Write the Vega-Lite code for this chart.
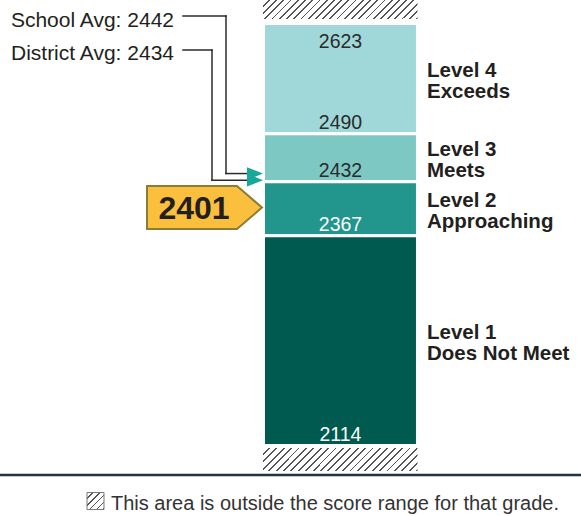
{
  "$schema": "https://vega.github.io/schema/vega-lite/v6.json",
  "width": 581,
  "height": 516,
  "padding": 0,
  "autosize": {"type": "none"},
  "config": {"view": {"stroke": null}},
  "datasets": {
    "levels": [
      {"level": "Level 4", "name": "Exceeds", "lo": 2490, "hi": 2623},
      {"level": "Level 3", "name": "Meets", "lo": 2432, "hi": 2490},
      {"level": "Level 2", "name": "Approaching", "lo": 2367, "hi": 2432},
      {"level": "Level 1", "name": "Does Not Meet", "lo": 2114, "hi": 2367}
    ],
    "avgs": [
      {"name": "School Avg", "score": 2442},
      {"name": "District Avg", "score": 2434}
    ],
    "student": [{"score": 2401}],
    "note": [{"text": "This area is outside the score range for that grade."}]
  },
  "data": {"name": "levels"},
  "layer": [
    {
      "mark": {"type": "rect", "stroke": "white", "strokeWidth": 3},
      "encoding": {
        "x": {"datum": 0, "type": "quantitative", "scale": {"domain": [-1.711, 2.062], "nice": false, "zero": false}, "axis": null},
        "x2": {"datum": 1},
        "y": {"field": "lo", "type": "quantitative", "scale": {"domain": [2029, 2651.3], "nice": false, "zero": false}, "axis": null},
        "y2": {"field": "hi"},
        "fill": {"field": "level", "type": "nominal", "scale": {"domain": ["Level 1", "Level 2", "Level 3", "Level 4"], "range": ["#005a50", "#22968c", "#7dc8c3", "#a0d8da"]}, "legend": null}
      }
    },
    {
      "data": {"values": [{}]},
      "mark": {"type": "rect", "fill": {"gradient": "linear", "x1": 0, "y1": 0, "x2": 1.1062, "y2": 0.136, "stops": [
        {"offset":0,"color":"#fff"},{"offset":0.0313,"color":"#fff"},{"offset":0.0313,"color":"#555"},{"offset":0.0417,"color":"#555"},
        {"offset":0.0417,"color":"#fff"},{"offset":0.0729,"color":"#fff"},{"offset":0.0729,"color":"#555"},{"offset":0.0833,"color":"#555"},
        {"offset":0.0833,"color":"#fff"},{"offset":0.1146,"color":"#fff"},{"offset":0.1146,"color":"#555"},{"offset":0.125,"color":"#555"},
        {"offset":0.125,"color":"#fff"},{"offset":0.1563,"color":"#fff"},{"offset":0.1563,"color":"#555"},{"offset":0.1667,"color":"#555"},
        {"offset":0.1667,"color":"#fff"},{"offset":0.1979,"color":"#fff"},{"offset":0.1979,"color":"#555"},{"offset":0.2083,"color":"#555"},
        {"offset":0.2083,"color":"#fff"},{"offset":0.2396,"color":"#fff"},{"offset":0.2396,"color":"#555"},{"offset":0.25,"color":"#555"},
        {"offset":0.25,"color":"#fff"},{"offset":0.2813,"color":"#fff"},{"offset":0.2813,"color":"#555"},{"offset":0.2917,"color":"#555"},
        {"offset":0.2917,"color":"#fff"},{"offset":0.3229,"color":"#fff"},{"offset":0.3229,"color":"#555"},{"offset":0.3333,"color":"#555"},
        {"offset":0.3333,"color":"#fff"},{"offset":0.3646,"color":"#fff"},{"offset":0.3646,"color":"#555"},{"offset":0.375,"color":"#555"},
        {"offset":0.375,"color":"#fff"},{"offset":0.4063,"color":"#fff"},{"offset":0.4063,"color":"#555"},{"offset":0.4167,"color":"#555"},
        {"offset":0.4167,"color":"#fff"},{"offset":0.4479,"color":"#fff"},{"offset":0.4479,"color":"#555"},{"offset":0.4583,"color":"#555"},
        {"offset":0.4583,"color":"#fff"},{"offset":0.4896,"color":"#fff"},{"offset":0.4896,"color":"#555"},{"offset":0.5,"color":"#555"},
        {"offset":0.5,"color":"#fff"},{"offset":0.5313,"color":"#fff"},{"offset":0.5313,"color":"#555"},{"offset":0.5417,"color":"#555"},
        {"offset":0.5417,"color":"#fff"},{"offset":0.5729,"color":"#fff"},{"offset":0.5729,"color":"#555"},{"offset":0.5833,"color":"#555"},
        {"offset":0.5833,"color":"#fff"},{"offset":0.6146,"color":"#fff"},{"offset":0.6146,"color":"#555"},{"offset":0.625,"color":"#555"},
        {"offset":0.625,"color":"#fff"},{"offset":0.6563,"color":"#fff"},{"offset":0.6563,"color":"#555"},{"offset":0.6667,"color":"#555"},
        {"offset":0.6667,"color":"#fff"},{"offset":0.6979,"color":"#fff"},{"offset":0.6979,"color":"#555"},{"offset":0.7083,"color":"#555"},
        {"offset":0.7083,"color":"#fff"},{"offset":0.7396,"color":"#fff"},{"offset":0.7396,"color":"#555"},{"offset":0.75,"color":"#555"},
        {"offset":0.75,"color":"#fff"},{"offset":0.7813,"color":"#fff"},{"offset":0.7813,"color":"#555"},{"offset":0.7917,"color":"#555"},
        {"offset":0.7917,"color":"#fff"},{"offset":0.8229,"color":"#fff"},{"offset":0.8229,"color":"#555"},{"offset":0.8333,"color":"#555"},
        {"offset":0.8333,"color":"#fff"},{"offset":0.8646,"color":"#fff"},{"offset":0.8646,"color":"#555"},{"offset":0.875,"color":"#555"},
        {"offset":0.875,"color":"#fff"},{"offset":0.9063,"color":"#fff"},{"offset":0.9063,"color":"#555"},{"offset":0.9167,"color":"#555"},
        {"offset":0.9167,"color":"#fff"},{"offset":0.9479,"color":"#fff"},{"offset":0.9479,"color":"#555"},{"offset":0.9583,"color":"#555"},
        {"offset":0.9583,"color":"#fff"},{"offset":0.9896,"color":"#fff"},{"offset":0.9896,"color":"#555"},{"offset":1,"color":"#555"}
      ]}},
      "encoding": {
        "x": {"datum": -0.0031, "type": "quantitative", "scale": {"domain": [-1.711, 2.062], "nice": false, "zero": false}, "axis": null},
        "x2": {"datum": 1},
        "y": {"datum": 2628.4, "type": "quantitative", "scale": {"domain": [2029, 2651.3], "nice": false, "zero": false}, "axis": null},
        "y2": {"datum": 2651.3}
      }
    },
    {
      "data": {"values": [{}]},
      "mark": {"type": "rect", "fill": {"gradient": "linear", "x1": 0, "y1": 0, "x2": 1.124, "y2": 0.1673, "stops": [
        {"offset":0,"color":"#fff"},{"offset":0.0313,"color":"#fff"},{"offset":0.0313,"color":"#555"},{"offset":0.0417,"color":"#555"},
        {"offset":0.0417,"color":"#fff"},{"offset":0.0729,"color":"#fff"},{"offset":0.0729,"color":"#555"},{"offset":0.0833,"color":"#555"},
        {"offset":0.0833,"color":"#fff"},{"offset":0.1146,"color":"#fff"},{"offset":0.1146,"color":"#555"},{"offset":0.125,"color":"#555"},
        {"offset":0.125,"color":"#fff"},{"offset":0.1563,"color":"#fff"},{"offset":0.1563,"color":"#555"},{"offset":0.1667,"color":"#555"},
        {"offset":0.1667,"color":"#fff"},{"offset":0.1979,"color":"#fff"},{"offset":0.1979,"color":"#555"},{"offset":0.2083,"color":"#555"},
        {"offset":0.2083,"color":"#fff"},{"offset":0.2396,"color":"#fff"},{"offset":0.2396,"color":"#555"},{"offset":0.25,"color":"#555"},
        {"offset":0.25,"color":"#fff"},{"offset":0.2813,"color":"#fff"},{"offset":0.2813,"color":"#555"},{"offset":0.2917,"color":"#555"},
        {"offset":0.2917,"color":"#fff"},{"offset":0.3229,"color":"#fff"},{"offset":0.3229,"color":"#555"},{"offset":0.3333,"color":"#555"},
        {"offset":0.3333,"color":"#fff"},{"offset":0.3646,"color":"#fff"},{"offset":0.3646,"color":"#555"},{"offset":0.375,"color":"#555"},
        {"offset":0.375,"color":"#fff"},{"offset":0.4063,"color":"#fff"},{"offset":0.4063,"color":"#555"},{"offset":0.4167,"color":"#555"},
        {"offset":0.4167,"color":"#fff"},{"offset":0.4479,"color":"#fff"},{"offset":0.4479,"color":"#555"},{"offset":0.4583,"color":"#555"},
        {"offset":0.4583,"color":"#fff"},{"offset":0.4896,"color":"#fff"},{"offset":0.4896,"color":"#555"},{"offset":0.5,"color":"#555"},
        {"offset":0.5,"color":"#fff"},{"offset":0.5313,"color":"#fff"},{"offset":0.5313,"color":"#555"},{"offset":0.5417,"color":"#555"},
        {"offset":0.5417,"color":"#fff"},{"offset":0.5729,"color":"#fff"},{"offset":0.5729,"color":"#555"},{"offset":0.5833,"color":"#555"},
        {"offset":0.5833,"color":"#fff"},{"offset":0.6146,"color":"#fff"},{"offset":0.6146,"color":"#555"},{"offset":0.625,"color":"#555"},
        {"offset":0.625,"color":"#fff"},{"offset":0.6563,"color":"#fff"},{"offset":0.6563,"color":"#555"},{"offset":0.6667,"color":"#555"},
        {"offset":0.6667,"color":"#fff"},{"offset":0.6979,"color":"#fff"},{"offset":0.6979,"color":"#555"},{"offset":0.7083,"color":"#555"},
        {"offset":0.7083,"color":"#fff"},{"offset":0.7396,"color":"#fff"},{"offset":0.7396,"color":"#555"},{"offset":0.75,"color":"#555"},
        {"offset":0.75,"color":"#fff"},{"offset":0.7813,"color":"#fff"},{"offset":0.7813,"color":"#555"},{"offset":0.7917,"color":"#555"},
        {"offset":0.7917,"color":"#fff"},{"offset":0.8229,"color":"#fff"},{"offset":0.8229,"color":"#555"},{"offset":0.8333,"color":"#555"},
        {"offset":0.8333,"color":"#fff"},{"offset":0.8646,"color":"#fff"},{"offset":0.8646,"color":"#555"},{"offset":0.875,"color":"#555"},
        {"offset":0.875,"color":"#fff"},{"offset":0.9063,"color":"#fff"},{"offset":0.9063,"color":"#555"},{"offset":0.9167,"color":"#555"},
        {"offset":0.9167,"color":"#fff"},{"offset":0.9479,"color":"#fff"},{"offset":0.9479,"color":"#555"},{"offset":0.9583,"color":"#555"},
        {"offset":0.9583,"color":"#fff"},{"offset":0.9896,"color":"#fff"},{"offset":0.9896,"color":"#555"},{"offset":1,"color":"#555"}
      ]}},
      "encoding": {
        "x": {"datum": -0.0031, "type": "quantitative", "scale": {"domain": [-1.711, 2.062], "nice": false, "zero": false}, "axis": null},
        "x2": {"datum": 1},
        "y": {"datum": 2083.2, "type": "quantitative", "scale": {"domain": [2029, 2651.3], "nice": false, "zero": false}, "axis": null},
        "y2": {"datum": 2111}
      }
    },
    {
      "mark": {"type": "text", "align": "center", "baseline": "alphabetic", "dy": -4.5, "font": "Liberation Sans", "fontSize": 19.5},
      "encoding": {
        "x": {"datum": 0.5, "type": "quantitative", "scale": {"domain": [-1.711, 2.062], "nice": false, "zero": false}, "axis": null},
        "y": {"field": "lo", "type": "quantitative", "scale": {"domain": [2029, 2651.3], "nice": false, "zero": false}, "axis": null},
        "text": {"field": "lo", "type": "quantitative", "format": "d"},
        "color": {"condition": {"test": "datum.level === 'Level 1' || datum.level === 'Level 2'", "value": "#ffffff"}, "value": "#2b2b2b"}
      }
    },
    {
      "transform": [{"filter": "datum.level === 'Level 4'"}],
      "mark": {"type": "text", "align": "center", "baseline": "alphabetic", "dy": 25, "font": "Liberation Sans", "fontSize": 19.5, "color": "#2b2b2b"},
      "encoding": {
        "x": {"datum": 0.5, "type": "quantitative", "scale": {"domain": [-1.711, 2.062], "nice": false, "zero": false}, "axis": null},
        "y": {"field": "hi", "type": "quantitative", "scale": {"domain": [2029, 2651.3], "nice": false, "zero": false}, "axis": null},
        "text": {"field": "hi", "type": "quantitative", "format": "d"}
      }
    },
    {
      "transform": [
        {"calculate": "(datum.lo + datum.hi) / 2", "as": "mid"},
        {"calculate": "datum.level + '\\n' + datum.name", "as": "label"}
      ],
      "mark": {"type": "text", "align": "left", "baseline": "alphabetic", "dy": -2, "font": "Liberation Sans", "fontSize": 20.5, "fontWeight": "bold", "lineBreak": "\n", "lineHeight": 21, "color": "#231f20"},
      "encoding": {
        "x": {"datum": 1.0619, "type": "quantitative", "scale": {"domain": [-1.711, 2.062], "nice": false, "zero": false}, "axis": null},
        "y": {"field": "mid", "type": "quantitative", "scale": {"domain": [2029, 2651.3], "nice": false, "zero": false}, "axis": null},
        "text": {"field": "label", "type": "nominal"}
      }
    },
    {
      "data": {"name": "avgs"},
      "transform": [{"filter": "datum.name === 'School Avg'"}, {"calculate": "datum.name + ': ' + datum.score", "as": "label"}],
      "layer": [
        {
          "mark": {"type": "rule", "color": "#2b2b2b", "strokeWidth": 1.5, "strokeCap": "square"},
          "encoding": {
            "x": {"datum": -0.5226, "type": "quantitative", "scale": {"domain": [-1.711, 2.062], "nice": false, "zero": false}, "axis": null},
            "x2": {"datum": -0.2434},
            "y": {"datum": 2632, "type": "quantitative", "scale": {"domain": [2029, 2651.3], "nice": false, "zero": false}, "axis": null}
          }
        },
        {
          "mark": {"type": "rule", "color": "#2b2b2b", "strokeWidth": 1.5, "strokeCap": "square"},
          "encoding": {
            "x": {"datum": -0.2434, "type": "quantitative", "scale": {"domain": [-1.711, 2.062], "nice": false, "zero": false}, "axis": null},
            "y": {"field": "score", "type": "quantitative", "scale": {"domain": [2029, 2651.3], "nice": false, "zero": false}, "axis": null},
            "y2": {"datum": 2632}
          }
        },
        {
          "mark": {"type": "rule", "color": "#2b2b2b", "strokeWidth": 1.5, "strokeCap": "square"},
          "encoding": {
            "x": {"datum": -0.2434, "type": "quantitative", "scale": {"domain": [-1.711, 2.062], "nice": false, "zero": false}, "axis": null},
            "x2": {"datum": -0.09},
            "y": {"field": "score", "type": "quantitative", "scale": {"domain": [2029, 2651.3], "nice": false, "zero": false}, "axis": null}
          }
        },
        {
          "mark": {"type": "text", "align": "right", "baseline": "alphabetic", "dy": 11, "font": "Liberation Sans", "fontSize": 21, "color": "#231f20"},
          "encoding": {
            "x": {"datum": -0.5811, "type": "quantitative", "scale": {"domain": [-1.711, 2.062], "nice": false, "zero": false}, "axis": null},
            "y": {"datum": 2632, "type": "quantitative", "scale": {"domain": [2029, 2651.3], "nice": false, "zero": false}, "axis": null},
            "text": {"field": "label", "type": "nominal"}
          }
        }
      ]
    },
    {
      "data": {"name": "avgs"},
      "transform": [{"filter": "datum.name === 'District Avg'"}, {"calculate": "datum.name + ': ' + datum.score", "as": "label"}],
      "layer": [
        {
          "mark": {"type": "rule", "color": "#2b2b2b", "strokeWidth": 1.5, "strokeCap": "square"},
          "encoding": {
            "x": {"datum": -0.5226, "type": "quantitative", "scale": {"domain": [-1.711, 2.062], "nice": false, "zero": false}, "axis": null},
            "x2": {"datum": -0.3343},
            "y": {"datum": 2591, "type": "quantitative", "scale": {"domain": [2029, 2651.3], "nice": false, "zero": false}, "axis": null}
          }
        },
        {
          "mark": {"type": "rule", "color": "#2b2b2b", "strokeWidth": 1.5, "strokeCap": "square"},
          "encoding": {
            "x": {"datum": -0.3343, "type": "quantitative", "scale": {"domain": [-1.711, 2.062], "nice": false, "zero": false}, "axis": null},
            "y": {"field": "score", "type": "quantitative", "scale": {"domain": [2029, 2651.3], "nice": false, "zero": false}, "axis": null},
            "y2": {"datum": 2591}
          }
        },
        {
          "mark": {"type": "rule", "color": "#2b2b2b", "strokeWidth": 1.5, "strokeCap": "square"},
          "encoding": {
            "x": {"datum": -0.3343, "type": "quantitative", "scale": {"domain": [-1.711, 2.062], "nice": false, "zero": false}, "axis": null},
            "x2": {"datum": -0.09},
            "y": {"field": "score", "type": "quantitative", "scale": {"domain": [2029, 2651.3], "nice": false, "zero": false}, "axis": null}
          }
        },
        {
          "mark": {"type": "text", "align": "right", "baseline": "alphabetic", "dy": 10, "font": "Liberation Sans", "fontSize": 21, "color": "#231f20"},
          "encoding": {
            "x": {"datum": -0.5811, "type": "quantitative", "scale": {"domain": [-1.711, 2.062], "nice": false, "zero": false}, "axis": null},
            "y": {"datum": 2591, "type": "quantitative", "scale": {"domain": [2029, 2651.3], "nice": false, "zero": false}, "axis": null},
            "text": {"field": "label", "type": "nominal"}
          }
        }
      ]
    },
    {
      "data": {"name": "avgs"},
      "mark": {"type": "point", "shape": "M-1,-0.8L1,0L-1,0.8Z", "size": 256, "filled": true, "fill": "#17a898", "opacity": 1, "strokeWidth": 0},
      "encoding": {
        "x": {"datum": -0.055, "type": "quantitative", "scale": {"domain": [-1.711, 2.062], "nice": false, "zero": false}, "axis": null},
        "y": {"field": "score", "type": "quantitative", "scale": {"domain": [2029, 2651.3], "nice": false, "zero": false}, "axis": null}
      }
    },
    {
      "data": {"name": "student"},
      "layer": [
        {
          "mark": {"type": "point", "shape": "M-1,-0.374L0.565,-0.374L1,0L0.565,0.374L-1,0.374Z", "size": 13225, "filled": true, "fill": "#fbbf3e", "stroke": "#8b7d33", "strokeWidth": 2, "opacity": 1},
          "encoding": {
            "x": {"datum": -0.383, "type": "quantitative", "scale": {"domain": [-1.711, 2.062], "nice": false, "zero": false}, "axis": null},
            "y": {"field": "score", "type": "quantitative", "scale": {"domain": [2029, 2651.3], "nice": false, "zero": false}, "axis": null}
          }
        },
        {
          "mark": {"type": "text", "align": "center", "baseline": "alphabetic", "dy": 11, "font": "Liberation Sans", "fontSize": 32, "fontWeight": "bold", "color": "#231f20"},
          "encoding": {
            "x": {"datum": -0.4512, "type": "quantitative", "scale": {"domain": [-1.711, 2.062], "nice": false, "zero": false}, "axis": null},
            "y": {"field": "score", "type": "quantitative", "scale": {"domain": [2029, 2651.3], "nice": false, "zero": false}, "axis": null},
            "text": {"field": "score", "type": "quantitative", "format": "d"}
          }
        }
      ]
    },
    {
      "data": {"values": [{}]},
      "mark": {"type": "rule", "color": "#26323c", "strokeWidth": 2.5},
      "encoding": {
        "y": {"datum": 2078.4, "type": "quantitative", "scale": {"domain": [2029, 2651.3], "nice": false, "zero": false}, "axis": null}
      }
    },
    {
      "data": {"values": [{}]},
      "mark": {"type": "rect", "stroke": "#777777", "strokeWidth": 1, "fill": {"gradient": "linear", "x1": 0, "y1": 0, "x2": 1, "y2": 1, "stops": [
        {"offset":0,"color":"#fff"},{"offset":0.15,"color":"#fff"},{"offset":0.15,"color":"#555"},{"offset":0.2,"color":"#555"},
        {"offset":0.2,"color":"#fff"},{"offset":0.35,"color":"#fff"},{"offset":0.35,"color":"#555"},{"offset":0.4,"color":"#555"},
        {"offset":0.4,"color":"#fff"},{"offset":0.55,"color":"#fff"},{"offset":0.55,"color":"#555"},{"offset":0.6,"color":"#555"},
        {"offset":0.6,"color":"#fff"},{"offset":0.75,"color":"#fff"},{"offset":0.75,"color":"#555"},{"offset":0.8,"color":"#555"},
        {"offset":0.8,"color":"#fff"},{"offset":0.95,"color":"#fff"},{"offset":0.95,"color":"#555"},{"offset":1,"color":"#555"}
      ]}},
      "encoding": {
        "x": {"datum": -1.146, "type": "quantitative", "scale": {"domain": [-1.711, 2.062], "nice": false, "zero": false}, "axis": null},
        "x2": {"datum": -1.0357},
        "y": {"datum": 2036.8, "type": "quantitative", "scale": {"domain": [2029, 2651.3], "nice": false, "zero": false}, "axis": null},
        "y2": {"datum": 2057.3}
      }
    },
    {
      "data": {"name": "note"},
      "mark": {"type": "text", "align": "left", "baseline": "alphabetic", "font": "Liberation Sans", "fontSize": 20, "color": "#333333"},
      "encoding": {
        "x": {"datum": -0.9902, "type": "quantitative", "scale": {"domain": [-1.711, 2.062], "nice": false, "zero": false}, "axis": null},
        "y": {"datum": 2036.2, "type": "quantitative", "scale": {"domain": [2029, 2651.3], "nice": false, "zero": false}, "axis": null},
        "text": {"field": "text", "type": "nominal"}
      }
    }
  ]
}
